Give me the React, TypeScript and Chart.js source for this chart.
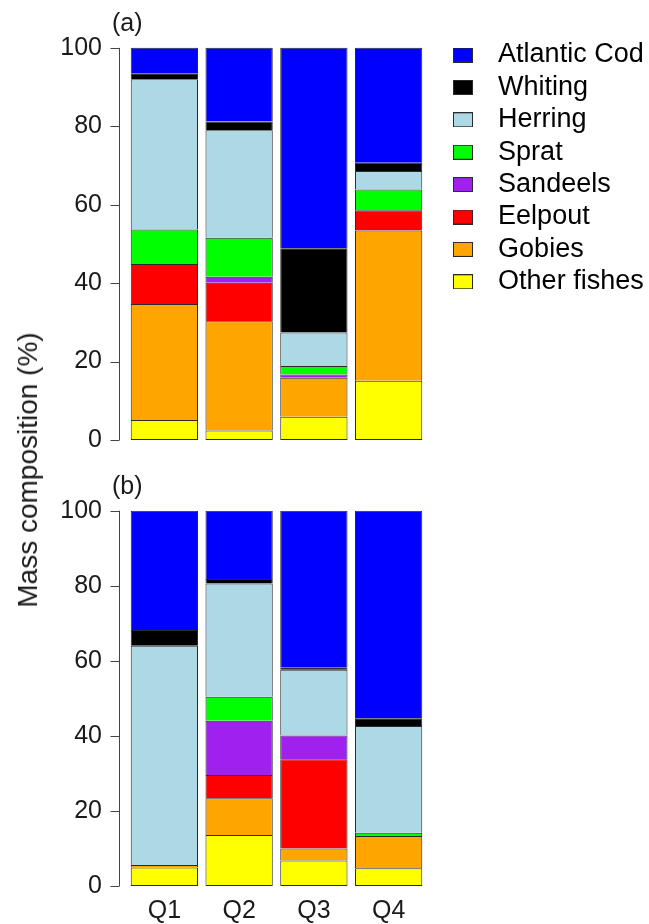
import { useEffect, useRef } from 'react';
import { Chart, registerables } from 'chart.js';

Chart.register(...registerables);

const FONT = '"Liberation Sans", Arial, Helvetica, sans-serif';
const TEXT = '#1a1a1a';
const EDGE = '#2a2a2a';

const quarters = ['Q1', 'Q2', 'Q3', 'Q4'];
const species = ['Atlantic Cod', 'Whiting', 'Herring', 'Sprat', 'Sandeels', 'Eelpout', 'Gobies', 'Other fishes'];
const speciesColors = ['#0000FF', '#000000', '#ADD8E6', '#00FF00', '#A020F0', '#FF0000', '#FFA500', '#FFFF00'];
const yTicks = { min: 0, max: 100, step: 20 };

// Panel (a): mass composition (%) per quarter
const codA = [6.5, 18.8, 51.1, 29.3];
const whitingA = [1.5, 2.2, 21.5, 2.1];
const herringA = [38.3, 27.4, 8.5, 4.7];
const spratA = [8.8, 10.0, 2.2, 5.3];
const sandeelsA = [0, 1.5, 0.8, 0];
const eelpoutA = [10.2, 9.8, 0, 5.2];
const gobiesA = [29.6, 27.9, 10.0, 38.3];
const otherA = [5.1, 2.4, 5.9, 15.1];

// Panel (b)
const codB = [31.8, 18.2, 41.7, 55.3];
const whitingB = [4.2, 1.2, 0.7, 2.1];
const herringB = [58.4, 30.2, 17.5, 28.4];
const spratB = [0, 6.4, 0, 0.9];
const sandeelsB = [0, 14.4, 6.3, 0];
const eelpoutB = [0, 6.2, 23.8, 0];
const gobiesB = [0.7, 9.8, 3.2, 8.6];
const otherB = [4.9, 13.6, 6.8, 4.7];

const panelA = [codA, whitingA, herringA, spratA, sandeelsA, eelpoutA, gobiesA, otherA];
const panelB = [codB, whitingB, herringB, spratB, sandeelsB, eelpoutB, gobiesB, otherB];

function buildDatasets(panel: number[][]) {
  // species listed top-of-stack first; Chart.js stacks the first dataset at the bottom
  return species
    .map((name, i) => ({
      label: name,
      data: panel[i],
      backgroundColor: speciesColors[i],
      borderColor: EDGE,
      borderWidth: 1,
      borderSkipped: i === species.length - 1 ? false : 'start',
      barPercentage: 0.9,
      categoryPercentage: 1,
    }))
    .reverse();
}

const rAxisPlugin = {
  id: 'rAxis',
  afterDraw(chart: any, _args: any, opts: any) {
    const { ctx, chartArea } = chart;
    const ys = chart.scales.y;
    const ticks = ys.ticks;
    const x0 = Math.round(chartArea.left - 7) - 0.5;
    const pFirst = ys.getPixelForValue(ticks[0].value);
    const pLast = ys.getPixelForValue(ticks[ticks.length - 1].value);
    ctx.save();
    ctx.strokeStyle = '#444';
    ctx.lineWidth = 1;
    ctx.beginPath();
    ctx.moveTo(x0, pFirst);
    ctx.lineTo(x0, pLast);
    ticks.forEach((t: any) => {
      const py = Math.round(ys.getPixelForValue(t.value)) + 0.5;
      ctx.moveTo(x0 - 9, py);
      ctx.lineTo(x0, py);
    });
    ctx.stroke();
    if (opts && opts.label) {
      ctx.font = `25px ${FONT}`;
      ctx.fillStyle = TEXT;
      ctx.textBaseline = 'middle';
      ctx.textAlign = 'left';
      ctx.fillText(opts.label, chartArea.left - 15, pLast - 24);
    }
    ctx.restore();
  },
};

// let the legend draw its text up to the canvas edge
const legendWidenPlugin = {
  id: 'legendWiden',
  afterLayout(chart: any) {
    const lg = chart.legend;
    if (lg) {
      lg.right = chart.width;
      lg.width = lg.right - lg.left;
    }
  },
};

function swatch(color: string) {
  const c = document.createElement('canvas');
  c.width = 40;
  c.height = 15;
  const g = c.getContext('2d')!;
  g.fillStyle = EDGE;
  g.fillRect(15, 0, 20, 15);
  g.fillStyle = color;
  g.fillRect(16, 1, 18, 13);
  return c;
}

function yScale(max: number) {
  return {
    stacked: true,
    min: yTicks.min,
    max,
    afterFit: (s: any) => {
      s.width = 127;
    },
    afterBuildTicks: (s: any) => {
      s.ticks = s.ticks.filter((t: any) => t.value <= yTicks.max);
    },
    grid: { display: false, drawTicks: true, tickLength: 25 },
    border: { display: false },
    ticks: {
      stepSize: yTicks.step,
      includeBounds: false,
      padding: 0,
      color: TEXT,
      font: { family: FONT, size: 25 },
    },
  };
}

export default function App() {
  const topRef = useRef<HTMLCanvasElement>(null);
  const botRef = useRef<HTMLCanvasElement>(null);

  useEffect(() => {
    const swatches = speciesColors.map(swatch);
    const top = new Chart(topRef.current!, {
      type: 'bar',
      data: { labels: quarters, datasets: buildDatasets(panelA) as any },
      plugins: [rAxisPlugin, legendWidenPlugin],
      options: {
        responsive: false,
        animation: false,
        events: [],
        layout: { padding: { top: 36.1, right: 81, bottom: 35, left: 0 } },
        scales: {
          x: { stacked: true, display: false },
          y: yScale(103) as any,
        },
        plugins: {
          tooltip: { enabled: false },
          title: { display: false },
          rAxis: { label: '(a)' },
          legend: {
            display: true,
            position: 'right',
            align: 'start',
            labels: {
              usePointStyle: true,
              pointStyleWidth: 53.2,
              padding: 5.4,
              color: TEXT,
              font: { family: FONT, size: 27 },
              generateLabels: () =>
                species.map((name, i) => ({
                  text: name,
                  fillStyle: speciesColors[i],
                  strokeStyle: EDGE,
                  lineWidth: 1,
                  pointStyle: swatches[i],
                  hidden: false,
                  datasetIndex: species.length - 1 - i,
                })) as any,
            },
          },
        } as any,
      },
    });
    const bot = new Chart(botRef.current!, {
      type: 'bar',
      data: { labels: quarters, datasets: buildDatasets(panelB) as any },
      plugins: [rAxisPlugin],
      options: {
        responsive: false,
        animation: false,
        events: [],
        layout: { padding: { top: 35.7, right: 223, bottom: 0, left: 0 } },
        scales: {
          x: {
            stacked: true,
            afterFit: (s: any) => {
              s.height = 38;
            },
            grid: { display: false, drawTicks: false },
            border: { display: false },
            ticks: { padding: 10, color: TEXT, font: { family: FONT, size: 25 } },
          },
          y: yScale(yTicks.max) as any,
        },
        plugins: {
          tooltip: { enabled: false },
          legend: { display: false },
          rAxis: { label: '(b)' },
        } as any,
      },
    });
    return () => {
      top.destroy();
      bot.destroy();
    };
  }, []);

  return (
    <div style={{ position: 'absolute', left: 0, top: 0, width: 649, height: 924, background: '#fff', overflow: 'hidden' }}>
      <canvas ref={topRef} width={649} height={475} style={{ position: 'absolute', left: 0, top: 0 }} />
      <canvas ref={botRef} width={649} height={449} style={{ position: 'absolute', left: 0, top: 475 }} />
      <div
        style={{
          position: 'absolute',
          left: 28,
          top: 470,
          transform: 'translate(-50%, -50%) rotate(-90deg)',
          whiteSpace: 'nowrap',
          fontFamily: FONT,
          fontSize: 28,
          color: TEXT,
          lineHeight: 1,
        }}
      >
        Mass composition (%)
      </div>
    </div>
  );
}
